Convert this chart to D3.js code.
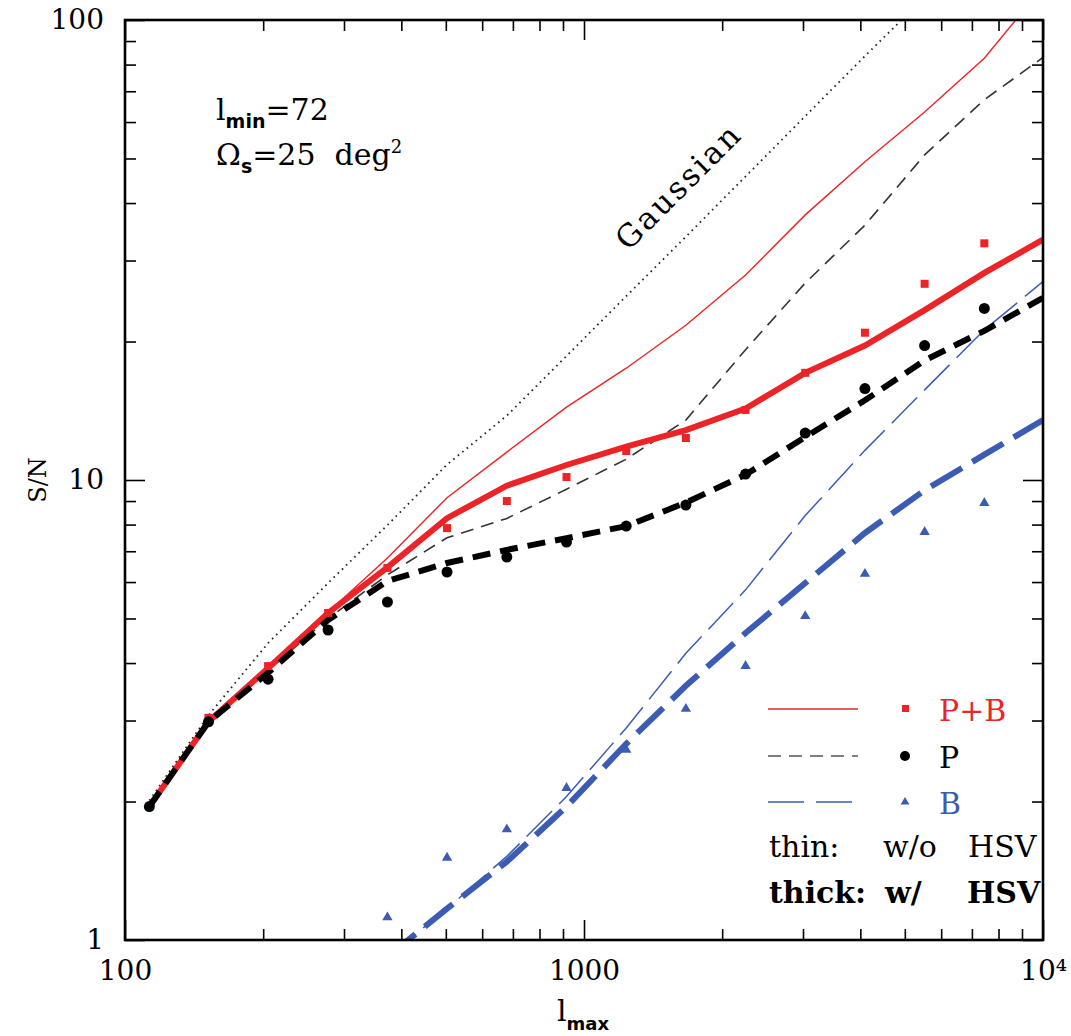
<!DOCTYPE html>
<html>
<head>
<meta charset="utf-8">
<script src="https://cdn.jsdelivr.net/npm/d3@7"></script>
<style>
  body { margin: 0; background: #fff; }
  svg text { font-family: "DejaVu Serif", serif; }
</style>
</head>
<body>
<script>
/* S/N vs lmax */

// multipole bins where the symbols sit
var lmax = [113, 152, 205, 277, 373, 503, 679, 916, 1236, 1667, 2249, 3034, 4093, 5522, 7450];
// curves also run to the right edge
var lCurve = lmax.concat([10000]);

// simulation points
var ptsPB = [1.95, 3.04, 3.94, 5.14, 6.44, 7.86, 9.0, 10.15, 11.56, 12.34, 14.2, 17.1, 20.9, 26.7, 32.7];
var ptsP  = [1.95, 2.98, 3.69, 4.72, 5.43, 6.31, 6.80, 7.33, 7.94, 8.82, 10.3, 12.65, 15.8, 19.6, 23.6];
var ptsB  = [1.12, 1.51, 1.74, 2.14, 2.59, 3.18, 3.94, 5.06, 6.25, 7.71, 8.91];   // from lmax[4]

// model curves (thin: w/o HSV, thick: w/ HSV)
var lineGauss = [2.01, 3.08, 4.42, 5.97, 7.98, 10.8, 13.8, 18.6, 25.1, 33.8, 45.7, 61.8, 83.5, 112];
var linePB    = [1.95, 2.98, 3.92, 5.16, 6.77, 9.15, 11.5, 14.4, 17.5, 21.7, 27.9, 37.7, 49.2, 63.1, 82.6, 118];
var lineP     = [1.95, 2.98, 3.85, 5.0, 6.22, 7.49, 8.25, 9.55, 11.1, 13.5, 19.2, 26.8, 35.8, 50.9, 67.1, 82.9];
var lineB     = [0.92, 1.17, 1.52, 2.05, 2.89, 4.2, 5.77, 8.37, 11.6, 15.7, 21.2, 27.0];   // from lCurve[4]
var hsvPB     = [1.95, 2.98, 3.90, 5.14, 6.46, 8.26, 9.72, 10.78, 11.82, 12.84, 14.3, 17.1, 19.6, 23.4, 28.2, 33.3];
var hsvP      = [1.95, 2.98, 3.81, 4.96, 6.03, 6.6, 7.05, 7.47, 7.94, 8.93, 10.27, 12.4, 14.9, 18.2, 21.1, 24.9];
var hsvB      = [0.92, 1.17, 1.48, 1.95, 2.67, 3.57, 4.65, 5.97, 7.67, 9.5, 11.35, 13.5];   // from lCurve[4]

var xTickLabels = ["100", "1000", "10\u2074"];
var yTickLabels = ["1", "10", "100"];

var RED = "#ec2327", BLUE = "#3c5cb4", BLACK = "#000";

var W = 1071, H = 1036;
var padL = 125, padR = 1043, padT = 20, padB = 940;

var svg = d3.select("body").append("svg")
    .attr("width", W)
    .attr("height", H);

var x = d3.scaleLog().domain([100, 10000]).range([padL, padR]);
var y = d3.scaleLog().domain([1, 100]).range([padB, padT]);

svg.append("clipPath").attr("id", "plot")
  .append("rect")
    .attr("x", padL).attr("y", padT)
    .attr("width", padR - padL).attr("height", padB - padT);

// ticks: split log ticks into decades and the rest
function isDecade(v){ return Math.abs(Math.log10(v) - Math.round(Math.log10(v))) < 1e-9; }
var xMaj = x.ticks().filter(isDecade), xMin = x.ticks().filter(function(v){ return !isDecade(v); });
var yMaj = y.ticks().filter(isDecade), yMin = y.ticks().filter(function(v){ return !isDecade(v); });

function tickAxis(axis, vals, size, tr){
  var g = svg.append("g")
      .attr("transform", tr)
      .call(axis.tickValues(vals).tickSize(-size).tickFormat(""));
  g.select(".domain").remove();
  g.selectAll("line").attr("stroke", "#000").attr("stroke-width", 1.6);
  return g;
}
tickAxis(d3.axisBottom(x), xMin, 11, "translate(0," + padB + ")");
tickAxis(d3.axisBottom(x), xMaj, 20, "translate(0," + padB + ")");
tickAxis(d3.axisTop(x), xMin, 11, "translate(0," + padT + ")");
tickAxis(d3.axisTop(x), xMaj, 20, "translate(0," + padT + ")");
tickAxis(d3.axisLeft(y), yMin, 11, "translate(" + padL + ",0)");
tickAxis(d3.axisLeft(y), yMaj, 20, "translate(" + padL + ",0)");
tickAxis(d3.axisRight(y), yMin, 11, "translate(" + padR + ",0)");
tickAxis(d3.axisRight(y), yMaj, 20, "translate(" + padR + ",0)");

// tick labels
var gxl = svg.append("g")
    .attr("transform", "translate(0," + padB + ")")
    .call(d3.axisBottom(x).tickValues(xMaj).tickSize(0).tickPadding(20)
          .tickFormat(function(d, i){ return xTickLabels[i]; }));
gxl.select(".domain").remove();
gxl.selectAll("text").attr("font-family", "DejaVu Serif").attr("font-size", 28).attr("fill", "#000");

var gyl = svg.append("g")
    .attr("transform", "translate(" + padL + ",0)")
    .call(d3.axisLeft(y).tickValues(yMaj).tickSize(0).tickPadding(21)
          .tickFormat(function(d, i){ return yTickLabels[i]; }));
gyl.select(".domain").remove();
gyl.selectAll("text").attr("font-family", "DejaVu Serif").attr("font-size", 28).attr("fill", "#000");

// curves
var plot = svg.append("g").attr("clip-path", "url(#plot)");

function drawCurve(ls, vals, color, width, dash){
  var pts = vals.map(function(v, i){ return [ls[i], v]; });
  plot.append("path")
      .datum(pts)
      .attr("fill", "none")
      .attr("stroke", color)
      .attr("stroke-width", width)
      .attr("stroke-dasharray", dash)
      .attr("d", d3.line()
          .x(function(d){ return x(d[0]); })
          .y(function(d){ return y(d[1]); }));
}

drawCurve(lCurve, lineGauss, "#222", 1.8, "1.6,4.2");
drawCurve(lCurve, linePB, RED, 1.4, null);
drawCurve(lCurve, lineP, "#333", 1.6, "13,8");
drawCurve(lCurve.slice(4), lineB, BLUE, 1.5, "36,10");
drawCurve(lCurve, hsvPB, RED, 6, null);
drawCurve(lCurve, hsvP, BLACK, 6, "18,10");
drawCurve(lCurve.slice(4), hsvB, BLUE, 6, "36,12");

// symbols
plot.selectAll("rect.pb")
  .data(ptsPB)
  .enter()
  .append("rect")
    .attr("class", "pb")
    .attr("fill", RED)
    .attr("width", 8).attr("height", 8)
    .attr("x", function(d, i){ return x(lmax[i]) - 4; })
    .attr("y", function(d){ return y(d) - 4; });

plot.selectAll("circle.p")
  .data(ptsP)
  .enter()
  .append("circle")
    .attr("class", "p")
    .attr("fill", BLACK)
    .attr("r", 5.5)
    .attr("cx", function(d, i){ return x(lmax[i]); })
    .attr("cy", function(d){ return y(d); });

var tri = d3.symbol().type(d3.symbolTriangle).size(46);
plot.selectAll("path.b")
  .data(ptsB)
  .enter()
  .append("path")
    .attr("class", "b")
    .attr("fill", BLUE)
    .attr("d", tri)
    .attr("transform", function(d, i){ return "translate(" + x(lmax[i + 4]) + "," + y(d) + ")"; });

// frame
svg.append("rect")
    .attr("x", padL).attr("y", padT)
    .attr("width", padR - padL).attr("height", padB - padT)
    .attr("fill", "none")
    .attr("stroke", "#000")
    .attr("stroke-width", 2.6);

// axis titles
svg.append("text")
    .attr("transform", "translate(46,480) rotate(-90)")
    .attr("text-anchor", "middle")
    .attr("font-size", 24)
    .text("S/N");

var xt = svg.append("text").attr("x", 557).attr("y", 1021).attr("font-size", 30);
xt.append("tspan").text("l");
xt.append("tspan").attr("font-family", "DejaVu Sans").attr("font-weight", "bold")
    .attr("font-size", 18).attr("dy", 9).text("max");

// annotations
var a1 = svg.append("text").attr("x", 216).attr("y", 120).attr("font-size", 30);
a1.append("tspan").text("l");
a1.append("tspan").attr("font-family", "DejaVu Sans").attr("font-weight", "bold")
    .attr("font-size", 19).attr("dy", 8).text("min");
a1.append("tspan").attr("dy", -8).text("=72");

var a2 = svg.append("text").attr("x", 216).attr("y", 165).attr("font-size", 30);
a2.append("tspan").text("\u03a9");
a2.append("tspan").attr("font-family", "DejaVu Sans").attr("font-weight", "bold")
    .attr("font-size", 19).attr("dy", 8).text("s");
a2.append("tspan").attr("dy", -8).text("=25\u00a0 deg");
a2.append("tspan").attr("font-size", 18).attr("dy", -12).text("2");

svg.append("text")
    .attr("transform", "translate(686,194) rotate(-45)")
    .attr("text-anchor", "middle")
    .attr("font-size", 31)
    .attr("letter-spacing", 2.5)
    .text("Gaussian");

// legend
var legend = [
  { label: "P+B", color: RED, lw: 1.4, dash: null, y: 709, sym: "square" },
  { label: "P", color: BLACK, lw: 1.6, dash: "13,8", y: 756, sym: "circle" },
  { label: "B", color: BLUE, lw: 1.5, dash: "36,12", y: 802, sym: "triangle" }
];
legend.forEach(function(d){
  svg.append("line")
      .attr("x1", 768).attr("x2", 858)
      .attr("y1", d.y).attr("y2", d.y)
      .attr("stroke", d.color === BLACK ? "#555" : d.color)
      .attr("stroke-width", d.lw)
      .attr("stroke-dasharray", d.dash);
  if (d.sym === "square") {
    svg.append("rect").attr("x", 902).attr("y", d.y - 4).attr("width", 7).attr("height", 7).attr("fill", d.color);
  } else if (d.sym === "circle") {
    svg.append("circle").attr("cx", 905).attr("cy", d.y).attr("r", 5).attr("fill", d.color);
  } else {
    svg.append("path").attr("d", d3.symbol().type(d3.symbolTriangle).size(34))
        .attr("transform", "translate(905," + d.y + ")").attr("fill", d.color);
  }
  svg.append("text")
      .attr("x", 939).attr("y", d.y + 12)
      .attr("font-size", 30)
      .attr("fill", d.color)
      .text(d.label);
});

var thin = [["thin:", 769], ["w/o", 883], ["HSV", 968]];
thin.forEach(function(t){
  svg.append("text").attr("x", t[1]).attr("y", 857).attr("font-size", 30).text(t[0]);
});
var thick = [["thick:", 769], ["w/", 885], ["HSV", 967]];
thick.forEach(function(t){
  svg.append("text").attr("x", t[1]).attr("y", 903).attr("font-size", 30)
      .attr("font-weight", "bold").text(t[0]);
});
</script>
</body>
</html>
